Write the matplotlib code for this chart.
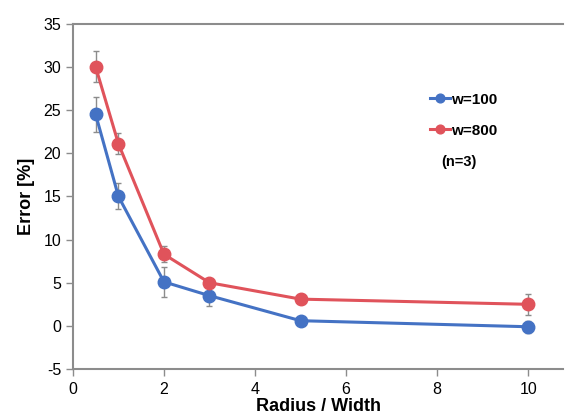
import matplotlib
matplotlib.use("Agg")
import matplotlib.pyplot as plt

plt.rcParams['font.family'] = ['Liberation Sans', 'DejaVu Sans']
plt.rcParams['axes.unicode_minus'] = False

ratio = [0.5, 1, 2, 3, 5, 10]
err_w100 = [24.5, 15.0, 5.1, 3.5, 0.6, -0.1]
sd_w100 = [2.0, 1.5, 1.7, 1.2, 0.3, 0.7]
err_w800 = [30.0, 21.1, 8.3, 5.0, 3.1, 2.5]
sd_w800 = [1.8, 1.2, 0.9, 0.4, 0.6, 1.2]

blue = '#4472C4'
red = '#E0535B'
grey = '#8C8C8C'

fig = plt.figure(figsize=(5.65, 4.17), dpi=100)
ax = fig.add_axes([0.129, 0.115, 0.868, 0.828])

for y, sd, c, lab in [(err_w100, sd_w100, blue, 'w=100'),
                      (err_w800, sd_w800, red, 'w=800')]:
    ax.errorbar(ratio, y, yerr=sd, fmt='none', ecolor=grey, elinewidth=1.0,
                capsize=2.5, capthick=1.0, zorder=2)
    ax.plot(ratio, y, '-o', color=c, lw=2.2, ms=9, label=lab, zorder=3)

ax.set_xlim(0, 10.77)
ax.set_ylim(-5, 35)
ax.set_xticks([0, 2, 4, 6, 8, 10])
ax.set_yticks(range(-5, 36, 5))

ax.spines['right'].set_visible(False)
for s in ['left', 'bottom', 'top']:
    ax.spines[s].set_color('#8C8C8C')
    ax.spines[s].set_linewidth(1.5)
ax.tick_params(axis='both', colors='#8C8C8C', length=5, width=1,
               labelcolor='black', labelsize=11.5)
ax.tick_params(axis='x', pad=4)

ax.set_xlabel('Radius / Width', fontsize=13, fontweight='bold', labelpad=1)
ax.set_ylabel('Error [%]', fontsize=13, fontweight='bold', labelpad=6)

leg = ax.legend(loc='upper left', bbox_to_anchor=(0.70, 0.84), frameon=False,
                prop={'weight': 'bold', 'size': 11}, handlelength=1.3,
                handletextpad=0.1, labelspacing=1.1, markerscale=0.7)
ax.text(0.752, 0.6, '(n=3)', transform=ax.transAxes, fontsize=10.5,
        fontweight='bold', ha='left', va='center')

fig.savefig('out.png', dpi=100)
